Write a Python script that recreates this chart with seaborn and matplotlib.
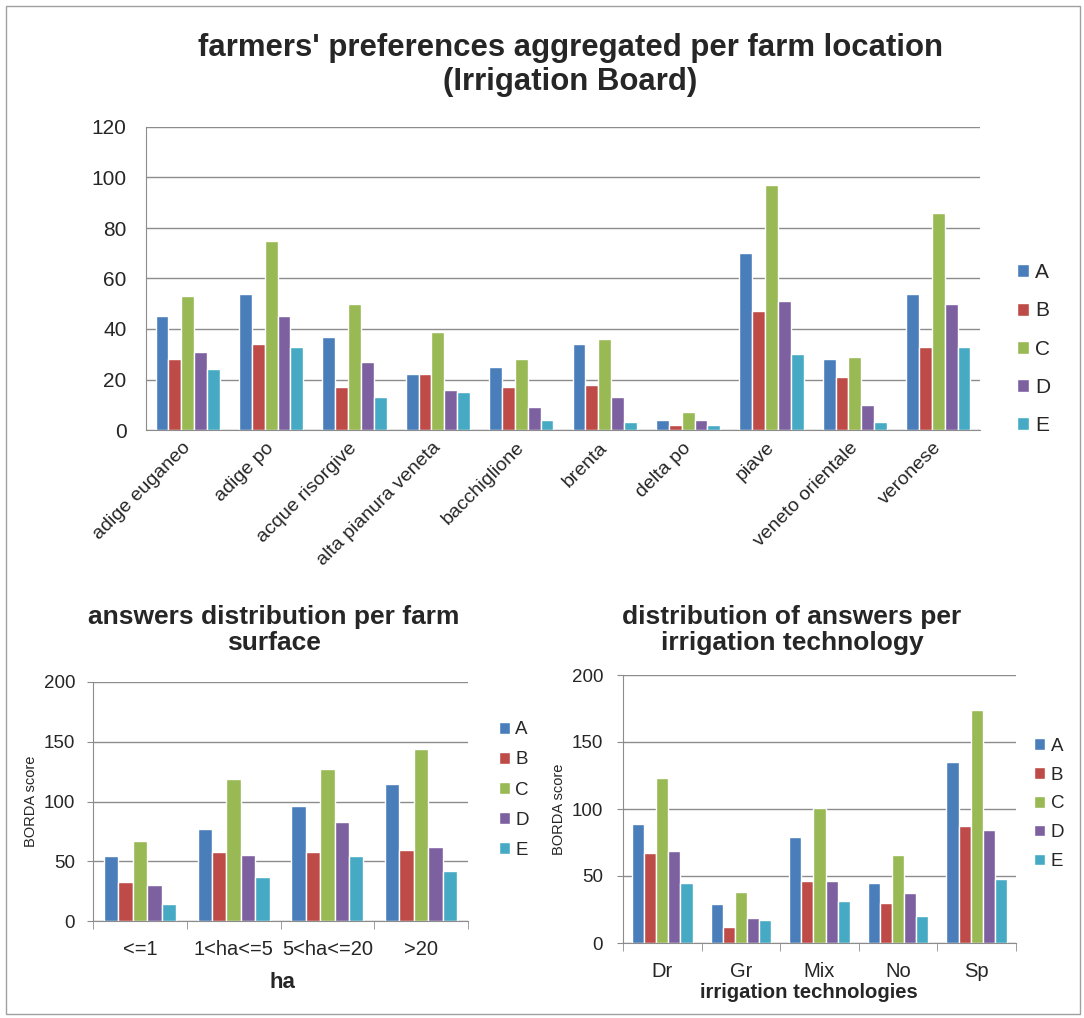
import pandas as pd
import seaborn as sns
import matplotlib.pyplot as plt

# series / categories
series = ['A', 'B', 'C', 'D', 'E']
colors = ['#4A7EBB', '#BE4B48', '#98B954', '#7D60A0', '#46AAC5']

locations = ['adige euganeo', 'adige po', 'acque risorgive', 'alta pianura veneta',
             'bacchiglione', 'brenta', 'delta po', 'piave', 'veneto orientale', 'veronese']
loc_A = [45, 54, 37, 22, 25, 34, 4, 70, 28, 54]
loc_B = [28, 34, 17, 22, 17, 18, 2, 47, 21, 33]
loc_C = [53, 75, 50, 39, 28, 36, 7, 97, 29, 86]
loc_D = [31, 45, 27, 16, 9, 13, 4, 51, 10, 50]
loc_E = [24, 33, 13, 15, 4, 3, 2, 30, 3, 33]

surfaces = ['<=1', '1<ha<=5', '5<ha<=20', '>20']
surf_A = [54, 77, 96, 115]
surf_B = [33, 58, 58, 59]
surf_C = [67, 119, 127, 144]
surf_D = [30, 55, 83, 62]
surf_E = [14, 37, 54, 42]

techs = ['Dr', 'Gr', 'Mix', 'No', 'Sp']
tech_A = [89, 29, 79, 45, 135]
tech_B = [67, 12, 46, 30, 87]
tech_C = [123, 38, 101, 66, 174]
tech_D = [69, 19, 46, 37, 84]
tech_E = [45, 17, 31, 20, 48]


def to_long(cats, vals):
    rows = []
    for s, v in zip(series, vals):
        for c, x in zip(cats, v):
            rows.append({'cat': c, 'series': s, 'value': x})
    return pd.DataFrame(rows)


df_loc = to_long(locations, [loc_A, loc_B, loc_C, loc_D, loc_E])
df_surf = to_long(surfaces, [surf_A, surf_B, surf_C, surf_D, surf_E])
df_tech = to_long(techs, [tech_A, tech_B, tech_C, tech_D, tech_E])

sns.set_style('white')
plt.rcParams['font.family'] = ['Liberation Sans', 'DejaVu Sans']

fig = plt.figure(figsize=(10.84, 10.18), dpi=100)
W, H = 1084, 1018
GRID = '#8c8c8c'


def px_axes(l, t, r, b):
    return fig.add_axes([l / W, 1 - b / H, (r - l) / W, (b - t) / H])


def style(ax, ymax, step, size, ticklen, pad):
    ax.set_ylim(0, ymax)
    ax.set_yticks(range(0, ymax + 1, step))
    ax.yaxis.grid(True, color=GRID, linewidth=1)
    ax.set_axisbelow(True)
    for s in ['top', 'right']:
        ax.spines[s].set_visible(False)
    for s in ['left', 'bottom']:
        ax.spines[s].set_color(GRID)
    ax.tick_params(axis='y', labelsize=size, length=ticklen, color=GRID, left=True, pad=pad)


def legend(ax, x, y, size, gap, box):
    handles, labels = ax.get_legend_handles_labels()
    ax.legend(handles, labels, loc='center left', bbox_to_anchor=(x, y), frameon=False,
              fontsize=size, handlelength=box, handleheight=box, handletextpad=0.3,
              labelspacing=gap)


# top chart
ax1 = px_axes(146, 127, 980, 430)
sns.barplot(data=df_loc, x='cat', y='value', hue='series', palette=colors,
            width=0.77, gap=0, saturation=1, ax=ax1)
style(ax1, 120, 20, 15, 0, 14)
ax1.set_xlabel('')
ax1.set_ylabel('')
ax1.set_xticks(range(len(locations)))
ax1.set_xticklabels(locations, rotation=45, ha='right', va='center', rotation_mode='anchor')
ax1.tick_params(axis='x', labelsize=14, length=0, pad=11)
legend(ax1, 1.0216, 0.267, 15, 0.92, 0.58)
fig.text(570 / W, 1 - 65 / H, "farmers' preferences aggregated per farm location\n(Irrigation Board)",
         ha='center', va='center', fontsize=22.4, fontweight='bold', linespacing=1.2)

# bottom left
ax2 = px_axes(93, 682, 468, 921)
sns.barplot(data=df_surf, x='cat', y='value', hue='series', palette=colors,
            width=0.77, gap=0, saturation=1, ax=ax2)
style(ax2, 200, 50, 13.5, 4.3, 8.6)
ax2.set_xlabel('')
ax2.set_ylabel('BORDA score', fontsize=10.5, labelpad=4)
ax2.set_xticks([i - 0.5 for i in range(len(surfaces) + 1)], minor=True)
ax2.tick_params(axis='x', which='major', length=0, labelsize=14.5, pad=14)
ax2.tick_params(axis='x', which='minor', length=6, color=GRID, bottom=True)
legend(ax2, 1.037, 0.548, 13.5, 0.7, 0.59)
fig.text(282 / W, 1 - 983 / H, 'ha', ha='center', va='center', fontsize=16, fontweight='bold')
fig.text(274 / W, 1 - 630 / H, 'answers distribution per farm\nsurface', ha='center', va='center',
         fontsize=19, fontweight='bold', linespacing=1.15)

# bottom right
ax3 = px_axes(623, 675, 1016, 943)
sns.barplot(data=df_tech, x='cat', y='value', hue='series', palette=colors,
            width=0.77, gap=0, saturation=1, ax=ax3)
style(ax3, 200, 50, 13.5, 4.3, 10)
ax3.set_xlabel('')
ax3.set_ylabel('BORDA score', fontsize=10.5, labelpad=4)
ax3.set_xticks([i - 0.5 for i in range(len(techs) + 1)], minor=True)
ax3.tick_params(axis='x', which='major', length=0, labelsize=14.5, pad=14)
ax3.tick_params(axis='x', which='minor', length=6, color=GRID, bottom=True)
legend(ax3, 1.0025, 0.519, 13.5, 0.63, 0.59)
fig.text(809 / W, 1 - 992 / H, 'irrigation technologies', ha='center', va='center',
         fontsize=14.6, fontweight='bold')
fig.text(792 / W, 1 - 630 / H, 'distribution of answers per\nirrigation technology', ha='center',
         va='center', fontsize=19, fontweight='bold', linespacing=1.15)

# thin outer frame
fig.patches.append(plt.Rectangle((6 / W, 4 / H), 1074 / W, 1008 / H, transform=fig.transFigure,
                                 fill=False, edgecolor='#a0a0a0', linewidth=1))

fig.savefig('out.png', dpi=100)
